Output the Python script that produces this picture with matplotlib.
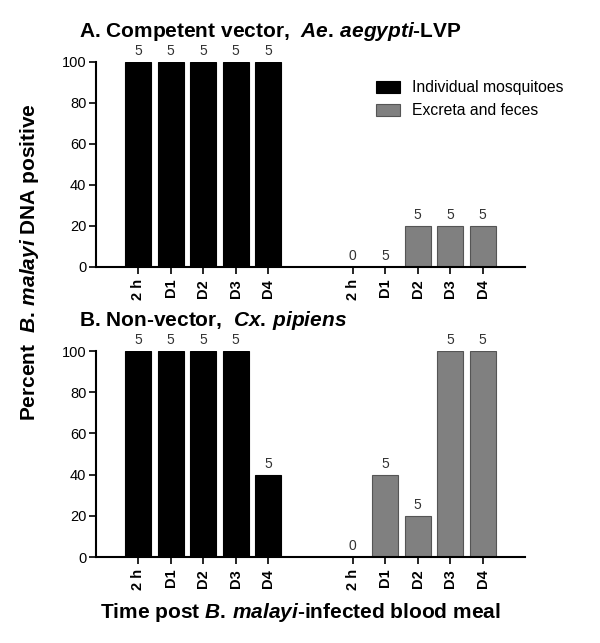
import numpy as np
import matplotlib.pyplot as plt

plt.rcParams['font.family'] = ['Liberation Sans', 'DejaVu Sans']
plt.rcParams['mathtext.fontset'] = 'custom'
plt.rcParams['mathtext.rm'] = 'Liberation Sans:bold'
plt.rcParams['mathtext.it'] = 'Liberation Sans:italic:bold'

times = ['2 h', 'D1', 'D2', 'D3', 'D4']

# panel A: Ae. aegypti-LVP
a_mosq = [100, 100, 100, 100, 100]
a_mosq_n = [5, 5, 5, 5, 5]
a_excr = [0, 0, 20, 20, 20]
a_excr_n = [0, 5, 5, 5, 5]

# panel B: Cx. pipiens
b_mosq = [100, 100, 100, 100, 40]
b_mosq_n = [5, 5, 5, 5, 5]
b_excr = [0, 40, 20, 100, 100]
b_excr_n = [0, 5, 5, 5, 5]

titles = ['A. Competent vector,  $Ae.\\,aegypti$-LVP',
          'B. Non-vector,  $Cx.\\,pipiens$']

fig = plt.figure(figsize=(6, 6.43), dpi=100)
axA = fig.add_axes([0.16, 0.5848, 0.715, 0.3188])
axB = fig.add_axes([0.16, 0.1337, 0.715, 0.3203])

x1 = np.arange(5)
x2 = np.arange(5) + 6.6
w = 0.8


def panel(ax, mosq, mosq_n, excr, excr_n, title):
    b1 = ax.bar(x1, mosq, w, color='black', edgecolor='black', linewidth=0.8,
                label='Individual mosquitoes')
    b2 = ax.bar(x2, excr, w, color='#808080', edgecolor='#555555', linewidth=0.8,
                label='Excreta and feces')
    for xs, vals, ns in [(x1, mosq, mosq_n), (x2, excr, excr_n)]:
        for xi, v, n in zip(xs, vals, ns):
            ax.text(xi, v + 2, str(n), ha='center', va='bottom', fontsize=10,
                    color='#333333')
    ax.set_xlim(-1.3, 11.9)
    ax.set_ylim(0, 100)
    ax.set_yticks([0, 20, 40, 60, 80, 100])
    ax.tick_params(axis='y', labelsize=10.5, length=5, width=1.2, pad=2)
    ax.set_xticks(np.concatenate([x1, x2]))
    ax.set_xticklabels(times + times, rotation=90, fontsize=10.5, fontweight='bold')
    ax.tick_params(axis='x', length=5, width=1.2)
    for s in ['top', 'right']:
        ax.spines[s].set_visible(False)
    for s in ['left', 'bottom']:
        ax.spines[s].set_linewidth(1.5)
    ax.text(-0.04, 1.15, title, transform=ax.transAxes, fontsize=15,
            fontweight='bold', ha='left', va='center')
    return b1, b2


b1, b2 = panel(axA, a_mosq, a_mosq_n, a_excr, a_excr_n, titles[0])
panel(axB, b_mosq, b_mosq_n, b_excr, b_excr_n, titles[1])

axA.legend(loc='upper left', bbox_to_anchor=(0.62, 0.98), frameon=False,
           fontsize=11.3, handlelength=1.5, handleheight=0.8, labelspacing=0.5)

fig.text(0.05, 0.592, 'Percent  $B.\\,malayi$ DNA positive', rotation=90,
         fontsize=15, fontweight='bold', ha='center', va='center')
fig.text(0.5, 0.048, 'Time post $B.\\,malayi$-infected blood meal',
         fontsize=15, fontweight='bold', ha='center', va='center')

fig.savefig('out.png', dpi=100)
